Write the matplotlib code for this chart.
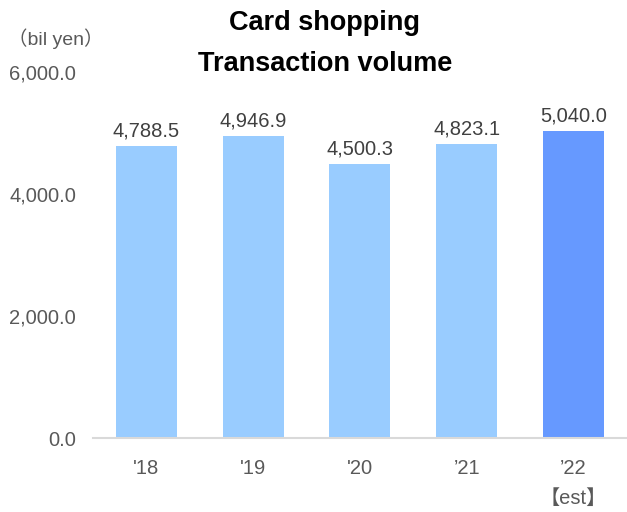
import matplotlib
matplotlib.use("Agg")
import matplotlib.pyplot as plt

plt.rcParams['font.family'] = ['Liberation Sans', 'Noto Sans CJK JP']

categories = ["'18", "'19", "'20", "’21", "’22\n【est】"]
values = [4788.5, 4946.9, 4500.3, 4823.1, 5040.0]
colors = ["#99CCFF", "#99CCFF", "#99CCFF", "#99CCFF", "#6699FF"]
yticks = [0, 2000, 4000, 6000]

fig = plt.figure(figsize=(6.27, 5.12), dpi=100)
ax = fig.add_axes([0.148, 0.1445, 0.852, 0.7145])
x = list(range(len(categories)))
bars = ax.bar(x, values, width=0.57, color=colors)
ax.bar_label(bars, labels=[f"{v:,.1f}" for v in values], padding=4,
             fontsize=14.5, color="#404040")
ax.set_xlim(-0.5, 4.5)
ax.set_ylim(0, 6000)
ax.set_yticks(yticks)
ax.set_yticklabels([f"{v:,.1f}" for v in yticks], fontsize=14.5, color="#595959")
ax.set_xticks(x)
ax.set_xticklabels(categories, fontsize=14.5, color="#595959", va='top', linespacing=1.75)
ax.tick_params(axis='both', length=0)
ax.tick_params(axis='x', pad=15)
ax.tick_params(axis='y', pad=12)
for s in ['top', 'right', 'left']:
    ax.spines[s].set_visible(False)
ax.spines['bottom'].set_color("#D9D9D9")
ax.spines['bottom'].set_linewidth(1.5)

fig.text(0.518, 0.98, "Card shopping\nTransaction volume", ha='center', va='top',
         fontsize=19.5, fontweight='bold', color='black', linespacing=1.75)
fig.text(0.012, 0.925, "（bil yen）", ha='left', va='center', fontsize=14, color="#595959")

fig.savefig("out.png", dpi=100)
